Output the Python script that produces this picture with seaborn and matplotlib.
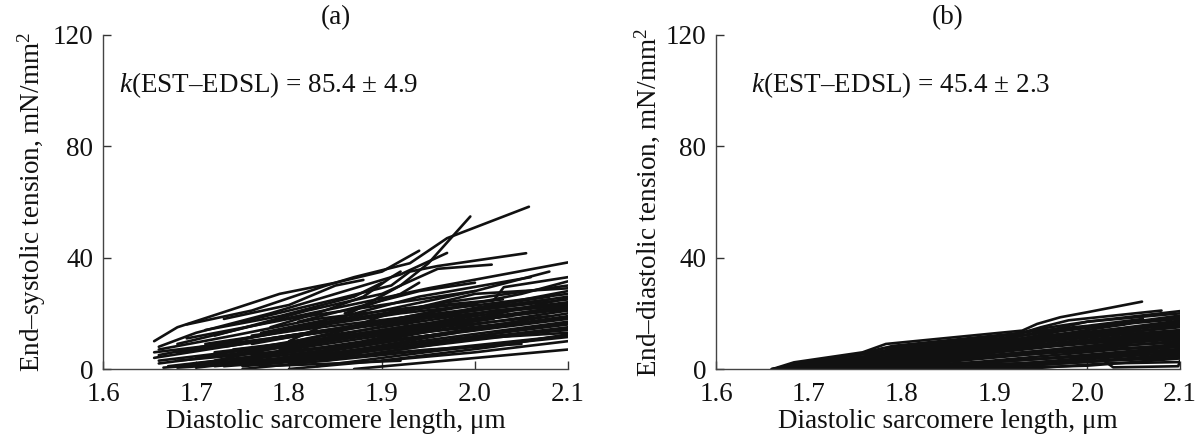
import matplotlib
matplotlib.use("Agg")
import matplotlib.pyplot as plt
import seaborn as sns
import pandas as pd

# End-systolic tension vs diastolic sarcomere length, one polyline per cell
est_lines = [
    [(1.655, 10), (1.68, 15), (1.79, 27), (1.85, 31), (1.90, 35), (1.94, 42.5)],
    [(1.66, 8), (1.70, 13), (1.78, 20), (1.86, 28), (1.92, 34), (1.97, 41.7)],
    [(1.69, 16), (1.76, 21), (1.84, 30), (1.87, 33), (1.93, 38), (1.97, 47), (2.058, 58.3)],
    [(1.80, 10), (1.86, 19), (1.92, 30), (1.95, 38), (1.995, 54.8)],
    [(1.75, 17), (1.85, 25), (1.91, 30), (1.93, 35), (1.96, 37), (2.055, 41.6)],
    [(1.72, 12), (1.82, 21), (1.90, 27), (1.96, 36), (2.018, 37.5)],
    [(1.68, 9), (1.78, 17), (1.88, 24), (1.95, 29), (2.10, 38.3)],
    [(1.66, 5), (1.80, 14), (1.90, 21), (2.00, 28), (2.08, 35)],
    [(1.70, 7), (1.82, 16), (1.95, 22), (2.02, 24.6), (2.031, 29.4), (2.10, 33)],
    [(1.74, 5), (1.90, 17), (2.05, 27), (2.10, 31.5)],
    [(1.72, 3), (1.88, 14), (2.10, 28)],
    [(1.655, 4), (1.75, 9), (1.85, 14), (2.10, 26)],
    [(1.66, 2), (1.80, 8), (2.10, 22)],
    [(1.67, 1), (1.80, 6), (1.95, 12), (2.10, 20)],
    [(1.70, 0.5), (1.85, 6), (2.10, 17)],
    [(1.75, 0), (1.90, 5), (2.10, 12)],
    [(1.80, 0), (2.00, 6), (2.10, 10)],
    [(1.87, 0), (2.10, 7)],
    [(1.76, 2), (1.95, 9), (2.10, 15)],
    [(1.655, 6), (1.78, 11), (1.92, 18), (2.10, 25)],
    [(1.66, 3), (1.76, 7), (1.90, 14), (2.04, 21), (2.10, 23)],
    [(1.70, 4), (1.84, 12), (2.00, 20), (2.10, 24)],
    [(1.73, 8), (1.83, 13), (1.98, 22), (2.10, 27)],
    [(1.68, 6), (1.80, 12), (1.95, 19), (2.07, 24)],
    [(1.78, 3), (1.93, 11), (2.10, 19)],
    [(1.82, 4), (1.98, 13), (2.10, 18)],
    [(1.74, 10), (1.85, 17), (1.97, 24), (2.10, 30)],
    [(1.69, 11), (1.80, 18), (1.88, 22), (2.00, 28)],
    [(1.77, 13), (1.86, 19), (1.94, 26), (2.06, 33)],
    [(1.71, 14), (1.79, 19), (1.87, 26), (1.90, 31)],
    [(1.73, 18), (1.80, 23), (1.85, 30), (1.88, 32)],
    [(1.78, 15), (1.83, 20), (1.88, 26), (1.91, 33), (1.92, 35)],
    [(1.85, 13), (1.90, 19), (2.00, 27), (2.10, 29)],
    [(1.66, 7), (1.74, 12), (1.83, 18), (1.93, 22), (2.03, 25)],
    [(1.79, 7), (1.90, 13), (2.02, 21), (2.10, 23.5)],
    [(1.72, 1), (1.82, 4), (1.96, 10), (2.10, 14)],
    [(1.83, 1), (1.97, 7), (2.10, 11.5)],
    [(1.90, 3), (2.02, 8), (2.10, 12.5)],
    [(1.94, 6), (2.05, 10), (2.10, 12)],
    [(1.665, 0.5), (1.76, 3), (1.86, 6), (1.96, 10)],
    [(1.77, 1), (1.85, 2), (1.92, 3)],
    [(1.83, 6), (1.96, 14), (2.10, 21)],
    [(1.86, 8), (1.98, 16), (2.10, 23)],
    [(1.88, 10), (2.00, 18), (2.10, 25.5)],
    [(1.90, 15), (2.00, 22), (2.08, 26)],
    [(1.76, 9), (1.86, 15), (1.98, 20), (2.04, 23)],
    [(1.81, 17), (1.87, 22), (1.94, 28), (2.00, 31)],
    [(1.86, 20), (1.92, 27), (1.94, 31)],
    [(1.895, 10), (1.92, 14), (1.93, 17)],
    [(1.70, 2), (1.80, 6), (1.90, 10), (2.00, 14)],
    [(1.72, 6), (1.82, 10), (1.92, 14), (2.02, 18)],
    [(1.74, 3), (1.84, 8), (1.94, 13), (2.05, 17)],
    [(1.76, 5), (1.86, 10), (1.96, 15), (2.08, 19)],
    [(1.78, 8), (1.88, 12), (1.98, 17), (2.10, 21.5)],
    [(1.80, 2), (1.88, 6), (1.98, 11), (2.10, 16)],
    [(1.73, 1), (1.81, 3), (1.90, 7), (2.00, 11), (2.10, 13)],
    [(1.68, 3), (1.78, 6), (1.88, 9), (1.98, 13)],
    [(1.69, 1), (1.77, 4), (1.87, 8), (1.95, 12)],
    [(1.74, 7), (1.84, 11), (1.94, 16), (2.04, 19)],
    [(1.78, 11), (1.88, 16), (1.97, 19), (2.06, 22)],
    [(1.82, 9), (1.92, 15), (2.02, 19), (2.10, 22.5)],
    [(1.84, 3), (1.94, 8), (2.04, 12), (2.10, 14.5)],
    [(1.79, 4), (1.89, 9), (1.99, 14), (2.10, 18.5)],
    [(1.71, 9), (1.81, 14), (1.91, 18), (2.01, 22)],
    [(1.76, 12), (1.84, 16), (1.92, 20), (2.00, 23)],
    [(1.86, 4), (1.96, 9), (2.06, 15), (2.10, 16.5)],
    [(1.81, 12), (1.90, 16), (1.99, 21), (2.08, 25)],
    [(1.75, 1), (1.85, 4), (1.95, 7), (2.05, 9)],
    [(1.68, 0.5), (1.75, 2), (1.82, 4), (1.88, 5)],
]

# End-diastolic tension vs diastolic sarcomere length
edt_lines = [
    [(1.661, 0), (1.684, 2.4), (1.758, 6), (1.783, 9), (1.93, 13.8), (1.946, 16.2), (1.971, 18.6), (2.0, 20.4), (2.059, 24.2)],
    [(1.665, 0), (1.69, 2), (1.76, 5.5), (1.79, 8.3), (1.93, 13), (1.95, 15), (1.98, 17.5), (2.08, 21)],
    [(1.67, 0), (1.70, 1.8), (1.78, 5), (1.80, 7.5), (1.92, 11.5), (1.96, 14), (2.0, 17), (2.10, 20.8)],
    [(1.67, 0), (1.72, 2.5), (1.80, 6.5), (1.93, 11), (1.97, 13.5), (2.10, 19.2)],
    [(1.68, 0), (1.75, 3), (1.85, 7), (1.95, 11), (2.10, 17.4)],
    [(1.68, 0), (1.78, 3.5), (1.90, 8), (2.0, 12), (2.057, 14.4)],
    [(1.69, 0), (1.80, 3), (1.94, 8), (2.10, 13.2)],
    [(1.70, 0), (1.82, 3), (1.96, 8), (2.10, 12)],
    [(1.72, 0), (1.85, 3), (2.0, 7), (2.10, 10.2)],
    [(1.75, 0), (1.88, 2.5), (2.10, 9)],
    [(1.78, 0), (1.92, 3), (2.10, 7.2)],
    [(1.82, 0), (1.98, 3), (2.10, 6)],
    [(1.86, 0), (2.0, 2.5), (2.10, 4.8)],
    [(1.897, 0.6), (1.979, 2.2), (2.018, 3), (2.028, 0.6), (2.098, 1), (2.10, 3)],
    [(1.66, 0), (1.70, 1.5), (1.80, 4.5), (1.90, 7.5), (2.0, 10), (2.10, 12.6)],
    [(1.665, 0), (1.72, 2), (1.82, 5.5), (1.92, 9), (2.02, 12.5), (2.10, 15)],
    [(1.675, 0), (1.74, 2.8), (1.84, 6.8), (1.94, 10.5), (2.04, 14), (2.10, 16)],
    [(1.70, 0), (1.77, 2.5), (1.87, 6), (1.97, 9), (2.10, 11)],
    [(1.73, 0), (1.83, 2), (1.93, 5), (2.03, 8.5), (2.10, 9.5)],
    [(1.76, 0), (1.86, 1.5), (1.96, 4), (2.10, 8)],
    [(1.80, 0), (1.90, 1.2), (2.0, 4), (2.10, 6.8)],
    [(1.84, 0), (1.95, 1.5), (2.05, 4), (2.10, 5.5)],
    [(1.88, 0), (2.0, 1.2), (2.10, 3.8)],
    [(1.93, 0), (2.02, 2), (2.10, 2.5)],
    [(1.662, 0), (1.69, 2.2), (1.77, 5.8), (1.80, 8), (1.90, 11.5), (1.94, 13.5), (2.0, 15.5), (2.06, 18)],
    [(1.68, 0), (1.73, 2.8), (1.82, 7), (1.92, 10.5), (1.98, 13), (2.05, 16.5), (2.10, 18)],
    [(1.71, 0), (1.78, 3.8), (1.88, 7.5), (1.96, 10), (2.04, 12.5), (2.10, 14)],
    [(1.74, 0), (1.81, 3.2), (1.91, 6.5), (1.99, 9.5), (2.08, 11.5)],
    [(1.663, 0), (1.685, 2), (1.75, 5), (1.78, 7.5), (1.92, 12.5), (1.95, 14.5), (2.0, 17), (2.10, 20)],
    [(1.668, 0), (1.69, 1.5), (1.76, 4.5), (1.79, 7), (1.90, 10.5), (1.95, 13), (2.02, 16), (2.10, 18.5)],
    [(1.67, 0), (1.71, 1.8), (1.78, 4.5), (1.82, 7), (1.93, 10), (2.0, 13), (2.10, 16.5)],
    [(1.675, 0), (1.72, 1.5), (1.80, 4), (1.86, 6.5), (1.95, 9), (2.03, 11.5), (2.10, 13.8)],
    [(1.69, 0), (1.74, 1.8), (1.81, 5.5), (1.88, 8.5), (1.93, 12), (1.97, 14), (2.04, 16)],
    [(1.70, 0), (1.76, 2.2), (1.84, 5), (1.90, 8), (1.96, 10.5), (2.05, 13.5), (2.10, 15.5)],
    [(1.72, 0.5), (1.80, 2.5), (1.88, 4.5), (1.98, 6.5), (2.10, 8.5)],
    [(1.66, 0), (1.73, 1), (1.83, 3), (1.93, 6), (2.03, 9), (2.10, 10.8)],
    [(1.67, 0), (1.76, 1), (1.86, 3.5), (1.95, 6.5), (2.05, 10), (2.10, 11.5)],
    [(1.79, 0.5), (1.87, 4), (1.95, 5.5), (2.02, 7), (2.10, 8)],
    [(1.69, 0.5), (1.78, 1.5), (1.87, 2), (1.97, 4), (2.07, 6), (2.10, 6.5)],
    [(1.72, 0), (1.82, 1), (1.92, 2), (2.02, 3), (2.10, 4)],
    [(1.83, 7), (1.90, 9.5), (1.96, 12), (2.05, 15), (2.10, 17)],
    [(1.75, 4), (1.82, 6.5), (1.91, 10), (1.96, 12.5)],
    [(1.77, 6), (1.84, 8), (1.90, 10.5), (1.93, 12.5)],
]

x_ticks = [1.6, 1.7, 1.8, 1.9, 2.0, 2.1]
y_ticks = [0, 40, 80, 120]
panel_titles = ["(a)", "(b)"]
y_labels = ["End\u2013systolic tension, mN/mm$^2$", "End\u2013diastolic tension, mN/mm$^2$"]
x_label = "Diastolic sarcomere length, \u03bcm"
slope_texts = ["$k$(EST\u2013EDSL) = 85.4 \u00b1 4.9", "$k$(EST\u2013EDSL) = 45.4 \u00b1 2.3"]
slope_text_x = [1.617, 1.638]


def to_frame(lines):
    rows = []
    for i, pts in enumerate(lines):
        for order, (x, y) in enumerate(pts):
            rows.append({"cell": i, "order": order, "sl": x, "tension": y})
    return pd.DataFrame(rows)


sns.set_style("ticks")
plt.rcParams["font.family"] = ["Liberation Serif", "DejaVu Serif"]
plt.rcParams["mathtext.fontset"] = "custom"
plt.rcParams["mathtext.rm"] = "Liberation Serif"
plt.rcParams["mathtext.it"] = "Liberation Serif:italic"
plt.rcParams["mathtext.bf"] = "Liberation Serif:bold"

FS = 19.5
fig = plt.figure(figsize=(11.99, 4.38), dpi=100)
positions = [[0.0859, 0.1575, 0.3878, 0.7626], [0.5972, 0.1575, 0.3870, 0.7626]]

for k, lines in enumerate([est_lines, edt_lines]):
    ax = fig.add_axes(positions[k])
    df = to_frame(lines)
    sns.lineplot(data=df, x="sl", y="tension", units="cell", estimator=None,
                 sort=False, color="#111111", linewidth=1.9, ax=ax, legend=False)
    ax.set_xlim(1.6, 2.1)
    ax.set_ylim(0, 120)
    ax.set_xticks(x_ticks)
    ax.set_xticklabels([f"{v:.1f}" for v in x_ticks])
    ax.set_yticks(y_ticks)
    ax.tick_params(direction="in", length=6, width=1.0, labelsize=FS,
                   colors="#333333", labelcolor="#111111")
    ax.tick_params(axis="x", pad=9)
    ax.tick_params(axis="y", pad=7)
    for side in ("top", "right"):
        ax.spines[side].set_visible(False)
    for side in ("left", "bottom"):
        ax.spines[side].set_color("#444444")
        ax.spines[side].set_linewidth(1.0)
    ax.set_xlabel(x_label, fontsize=FS, color="#111111", labelpad=2)
    ax.set_ylabel(y_labels[k], fontsize=FS, color="#111111", labelpad=3)
    ax.set_title(panel_titles[k], fontsize=FS, color="#111111", pad=8)
    ax.text(slope_text_x[k], 102, slope_texts[k], fontsize=FS, color="#111111",
            va="center", ha="left")

fig.savefig("out.png", dpi=100)
